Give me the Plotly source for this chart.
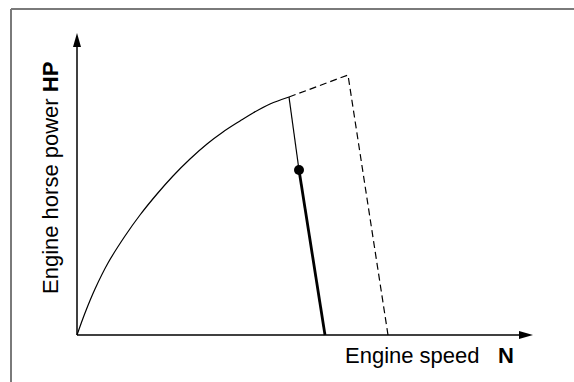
import plotly.graph_objects as go

# engine power curve (speed N, horse power HP)
curve_n = [0, 8, 18, 31, 48, 63, 80, 96, 113, 130, 146, 163, 176, 193, 212]
curve_hp = [0, 22, 46, 72, 99, 120, 141, 159, 176, 191, 203, 214, 222, 231, 238]

# full-throttle extension and governor drop (dashed)
max_n = [212, 271, 311]
max_hp = [238, 260, 0]

# governor line through the operating point
gov_thin_n = [212, 222]
gov_thin_hp = [238, 165]
gov_thick_n = [222, 248]
gov_thick_hp = [165, 0]
point_n = [222]
point_hp = [165]

# axis extents
n_axis_end = 456
hp_axis_end = 302

fig = go.Figure()
fig.add_trace(go.Scatter(x=curve_n, y=curve_hp, mode="lines",
                         line=dict(color="black", width=1.2, shape="spline", smoothing=1)))
fig.add_trace(go.Scatter(x=max_n, y=max_hp, mode="lines", line=dict(color="black", width=1.2, dash="7px,4px")))
fig.add_trace(go.Scatter(x=gov_thin_n, y=gov_thin_hp, mode="lines", line=dict(color="black", width=1.2)))
fig.add_trace(go.Scatter(x=gov_thick_n, y=gov_thick_hp, mode="lines", line=dict(color="black", width=2.8)))
fig.add_trace(go.Scatter(x=point_n, y=point_hp, mode="markers", marker=dict(color="black", size=10)))

# axes with arrow heads
head_len, head_half = 14, 4
shapes = [
    dict(type="line", x0=0, y0=0, x1=n_axis_end - head_len, y1=0, line=dict(color="black", width=1.5)),
    dict(type="line", x0=0, y0=0, x1=0, y1=hp_axis_end - head_len, line=dict(color="black", width=1.5)),
    dict(type="path", fillcolor="black", line=dict(width=0),
         path=f"M{n_axis_end},0 L{n_axis_end - head_len},{head_half} L{n_axis_end - head_len},{-head_half} Z"),
    dict(type="path", fillcolor="black", line=dict(width=0),
         path=f"M0,{hp_axis_end} L{head_half},{hp_axis_end - head_len} L{-head_half},{hp_axis_end - head_len} Z"),
    # frame
    dict(type="line", xref="paper", yref="paper", x0=11 / 574, y0=0, x1=11 / 574, y1=1 - 9 / 382,
         line=dict(color="#7a7a7a", width=2)),
    dict(type="line", xref="paper", yref="paper", x0=11 / 574, y0=1 - 9 / 382, x1=1, y1=1 - 9 / 382,
         line=dict(color="#7a7a7a", width=2)),
]

font = dict(family="Liberation Sans, Arial, sans-serif", size=22, color="black")
annotations = [
    dict(x=266, y=-20, xref="x", yref="y", text="Engine speed\u00a0\u00a0\u00a0<b>N</b>", showarrow=False,
         xanchor="left", yanchor="middle", font=font),
    dict(x=-27, y=157, xref="x", yref="y", text="Engine horse power <b>HP</b>", showarrow=False,
         textangle=-90, xanchor="center", yanchor="middle", font=font),
]

fig.update_layout(
    width=574, height=382,
    margin=dict(l=0, r=0, t=0, b=0),
    paper_bgcolor="white", plot_bgcolor="white",
    showlegend=False,
    xaxis=dict(range=[-77, 497], visible=False),
    yaxis=dict(range=[-47, 335], visible=False),
    shapes=shapes, annotations=annotations,
)
fig.write_html("out.html", config={"displayModeBar": False},
               post_script="document.body.style.margin='0';")
